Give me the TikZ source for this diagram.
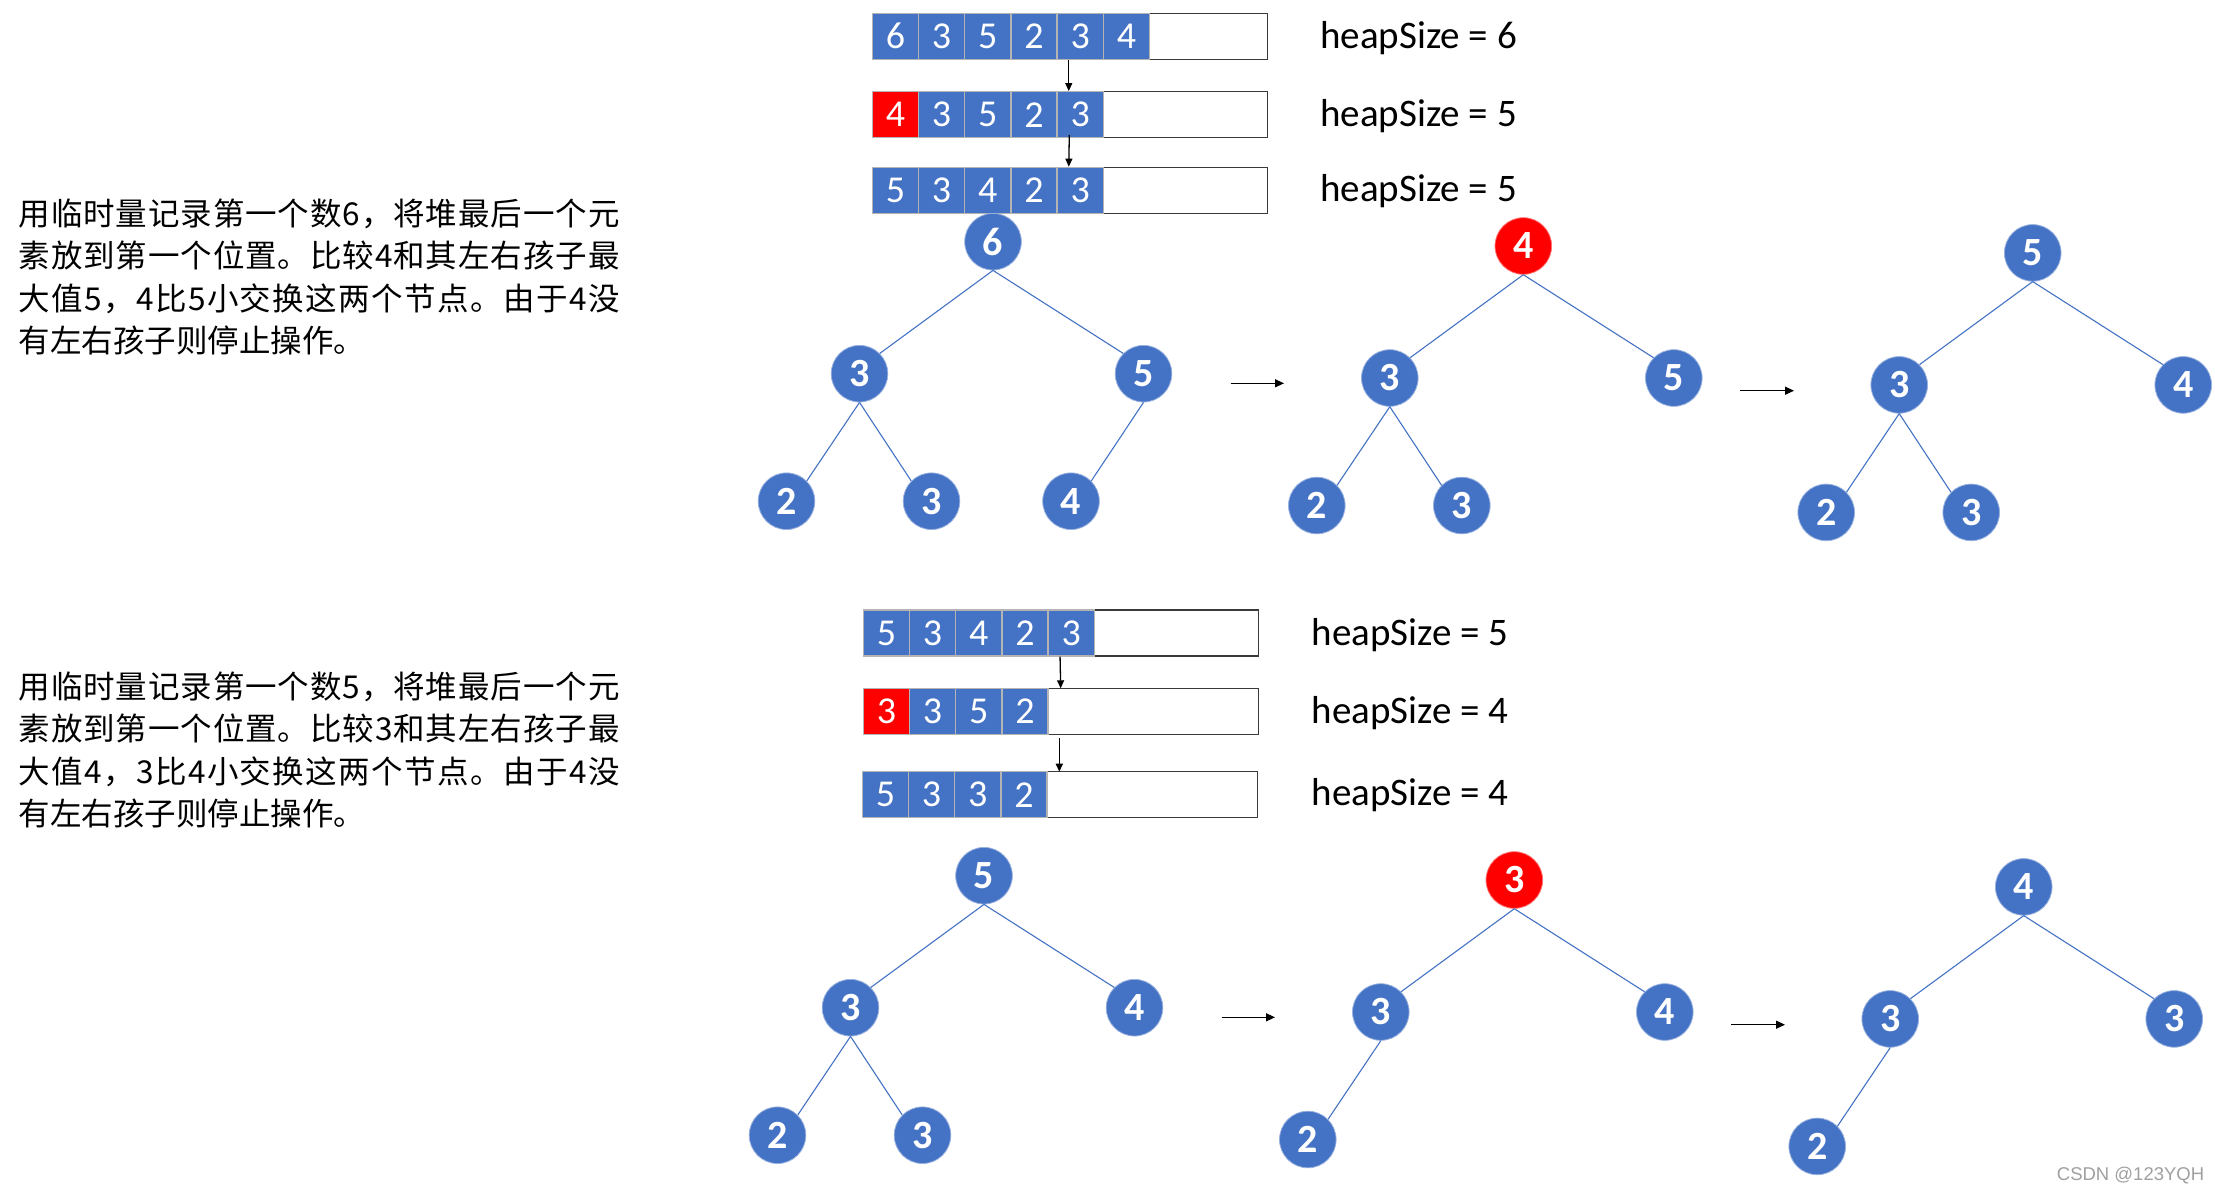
\documentclass[tikz,border=0pt]{standalone}
\usepackage{fontspec}
\setmainfont{Carlito}
\newfontfamily\cjk{Noto Sans CJK SC}
\newfontfamily\wmfont{Liberation Sans}
\usetikzlibrary{arrows.meta}
\definecolor{nblue}{HTML}{4472C4}
\definecolor{nred}{HTML}{FF0000}
\definecolor{cellline}{HTML}{B4B4B4}
\definecolor{boxline}{HTML}{3A3A3A}
\definecolor{wmgray}{HTML}{A0A0A0}
\newcommand\spreadA[1]{#1\spreadB}
\newcommand\spreadB[1]{\ifx#1\relax\else\hfil#1\expandafter\spreadB\fi}
\newcommand\jline[1]{\hbox to 601pt{\spreadA#1\relax}}
\newcommand\arrrow[5]{%
  \draw[draw=boxline, line width=1.3pt] (#2,#3) rectangle ++(#4,46);
  \foreach \c/\v [count=\i] in {#5} {%
    \node[cellbox, fill=\c] (#1-\i) at ({#2+23.1+46.2*(\i-1)},{#3+23}) {\v};}%
}
\tikzset{
  tn/.style={circle, fill=nblue, draw=nblue!55!white, line width=0.8pt,
    minimum size=56.6pt, inner sep=0pt, text=white,
    font=\bfseries\fontsize{40}{40}\selectfont},
  rn/.style={tn, fill=nred, draw=nred!55!white},
  treeedge/.style={draw=nblue, line width=1.1pt},
  cellbox/.style={rectangle, minimum width=46.2pt, minimum height=46pt,
    inner sep=0pt, draw=cellline, line width=1.3pt, text=white,
    font=\fontsize{38}{38}\selectfont},
  harrow/.style={-{Triangle[length=9pt,width=8pt]}, line width=1.3pt},
  varrow/.style={-{Triangle[length=8pt,width=7pt]}, line width=1.3pt},
  hs/.style={anchor=base west, inner sep=0pt, font=\fontsize{39}{39}\selectfont},
  cn/.style={anchor=base west, inner sep=0pt, font=\cjk\fontsize{31.5}{31.5}\selectfont},
}
\begin{document}
\begin{tikzpicture}[x=1pt, y=-1pt]
\fill[white] (0,0) rectangle (2215,1192);
\useasboundingbox (0,0) rectangle (2215,1192);

% ---------- left texts ----------
\node[cn] (ta) at (18.4,225) {\jline{用临时量记录第一个数6，将堆最后一个元}};
\node[cn] (tb) at (18.4,267.5) {\jline{素放到第一个位置。比较4和其左右孩子最}};
\node[cn] (tc) at (18.4,310) {\jline{大值5，4比5小交换这两个节点。由于4没}};
\node[cn] (td) at (18.4,352.5) {有左右孩子则停止操作。};

\node[cn] (te) at (18.4,698) {\jline{用临时量记录第一个数5，将堆最后一个元}};
\node[cn] (tf) at (18.4,740.5) {\jline{素放到第一个位置。比较3和其左右孩子最}};
\node[cn] (tg) at (18.4,783) {\jline{大值4，3比4小交换这两个节点。由于4没}};
\node[cn] (th) at (18.4,825.5) {有左右孩子则停止操作。};

% ---------- arrays (top) ----------
\arrrow{ra}{872.3}{13.3}{395}{nblue/6,nblue/3,nblue/5,nblue/2,nblue/3,nblue/4}
\arrrow{rb}{872.3}{91.7}{395}{nred/4,nblue/3,nblue/5,nblue/2,nblue/3}
\arrrow{rc}{872.3}{167.3}{395}{nblue/5,nblue/3,nblue/4,nblue/2,nblue/3}
\draw[varrow] ([xshift=12.3pt]ra-5.south west) -- ([xshift=12.3pt]rb-5.north west);
\coordinate (va1) at (1069.3,135);
\draw[varrow] (va1) -- ([xshift=12.3pt]rc-5.north west);
\node[hs] (h1) at (1320,48.3) {heapSize = 6};
\node[hs] (h2) at (1320,126.7) {heapSize = 5};
\node[hs] (h3) at (1320,201.7) {heapSize = 5};

% ---------- arrays (bottom) ----------
\arrrow{rd}{863.3}{610}{395.4}{nblue/5,nblue/3,nblue/4,nblue/2,nblue/3}
\arrrow{re}{863.3}{688.3}{395.4}{nred/3,nblue/3,nblue/5,nblue/2}
\arrrow{rf}{862.3}{771.7}{395}{nblue/5,nblue/3,nblue/3,nblue/2}
\coordinate (vb1) at (1060.7,688.3);
\draw[varrow] ([xshift=12.6pt]rd-5.south west) -- (vb1);
\coordinate (vb2) at (1059.3,738.3);
\coordinate (vb3) at (1059.3,771.7);
\draw[varrow] (vb2) -- (vb3);
\node[hs] (h4) at (1311.7,645) {heapSize = 5};
\node[hs] (h5) at (1311.7,723.3) {heapSize = 4};
\node[hs] (h6) at (1311.7,805) {heapSize = 4};

% ---------- tree 1 ----------
\begin{scope}[shift={(993,241.7)}]
\node[tn] (a1) at (0,0) {6};
\node[tn] (a2) at (-133.5,132) {3};
\node[tn] (a3) at (150.5,132) {5};
\node[tn] (a4) at (-206.5,259.5) {2};
\node[tn] (a5) at (-61.5,259.5) {3};
\node[tn] (a6) at (78,259.5) {4};
\end{scope}
\draw[treeedge] (a1.south) -- (a2.north east);
\draw[treeedge] (a1.south) -- (a3.north west);
\draw[treeedge] (a2.south) -- (a4.north east);
\draw[treeedge] (a2.south) -- (a5.north west);
\draw[treeedge] (a3.south) -- (a6.north east);

% ---------- tree 2 ----------
\begin{scope}[shift={(1523.3,246)}]
\node[rn] (b1) at (0,0) {4};
\node[tn] (b2) at (-133.5,132) {3};
\node[tn] (b3) at (150.5,132) {5};
\node[tn] (b4) at (-206.5,259.5) {2};
\node[tn] (b5) at (-61.5,259.5) {3};
\end{scope}
\draw[treeedge] (b1.south) -- (b2.north east);
\draw[treeedge] (b1.south) -- (b3.north west);
\draw[treeedge] (b2.south) -- (b4.north east);
\draw[treeedge] (b2.south) -- (b5.north west);

% ---------- tree 3 ----------
\begin{scope}[shift={(2032.7,252.9)}]
\node[tn] (c1) at (0,0) {5};
\node[tn] (c2) at (-133.5,132) {3};
\node[tn] (c3) at (150.5,132) {4};
\node[tn] (c4) at (-206.5,259.5) {2};
\node[tn] (c5) at (-61.5,259.5) {3};
\end{scope}
\draw[treeedge] (c1.south) -- (c2.north east);
\draw[treeedge] (c1.south) -- (c3.north west);
\draw[treeedge] (c2.south) -- (c4.north east);
\draw[treeedge] (c2.south) -- (c5.north west);

% ---------- tree 4 ----------
\begin{scope}[shift={(984,875.7)}]
\node[tn] (d1) at (0,0) {5};
\node[tn] (d2) at (-133.5,132) {3};
\node[tn] (d3) at (150.5,132) {4};
\node[tn] (d4) at (-206.5,259.5) {2};
\node[tn] (d5) at (-61.5,259.5) {3};
\end{scope}
\draw[treeedge] (d1.south) -- (d2.north east);
\draw[treeedge] (d1.south) -- (d3.north west);
\draw[treeedge] (d2.south) -- (d4.north east);
\draw[treeedge] (d2.south) -- (d5.north west);

% ---------- tree 5 ----------
\begin{scope}[shift={(1514.3,880)}]
\node[rn] (e1) at (0,0) {3};
\node[tn] (e2) at (-133.5,132) {3};
\node[tn] (e3) at (150.5,132) {4};
\node[tn] (e4) at (-206.5,259.5) {2};
\end{scope}
\draw[treeedge] (e1.south) -- (e2.north east);
\draw[treeedge] (e1.south) -- (e3.north west);
\draw[treeedge] (e2.south) -- (e4.north east);

% ---------- tree 6 ----------
\begin{scope}[shift={(2023.7,886.9)}]
\node[tn] (f1) at (0,0) {4};
\node[tn] (f2) at (-133.5,132) {3};
\node[tn] (f3) at (150.5,132) {3};
\node[tn] (f4) at (-206.5,259.5) {2};
\end{scope}
\draw[treeedge] (f1.south) -- (f2.north east);
\draw[treeedge] (f1.south) -- (f3.north west);
\draw[treeedge] (f2.south) -- (f4.north east);

% ---------- step arrows ----------
\coordinate (p1s) at (1230.7,383.3); \coordinate (p1e) at (1284,383.3);
\coordinate (p2s) at (1740,390.7);   \coordinate (p2e) at (1794,390.7);
\coordinate (p3s) at (1221.7,1017.3); \coordinate (p3e) at (1275,1017.3);
\coordinate (p4s) at (1731,1024.7);  \coordinate (p4e) at (1785,1024.7);
\draw[harrow] (p1s) -- (p1e);
\draw[harrow] (p2s) -- (p2e);
\draw[harrow] (p3s) -- (p3e);
\draw[harrow] (p4s) -- (p4e);

% ---------- watermark ----------
\node[anchor=base west, inner sep=0pt, text=wmgray,
  font=\wmfont\fontsize{18.5}{18.5}\selectfont] (wm) at (2056.7,1180) {CSDN @123YQH};
\end{tikzpicture}
\end{document}
